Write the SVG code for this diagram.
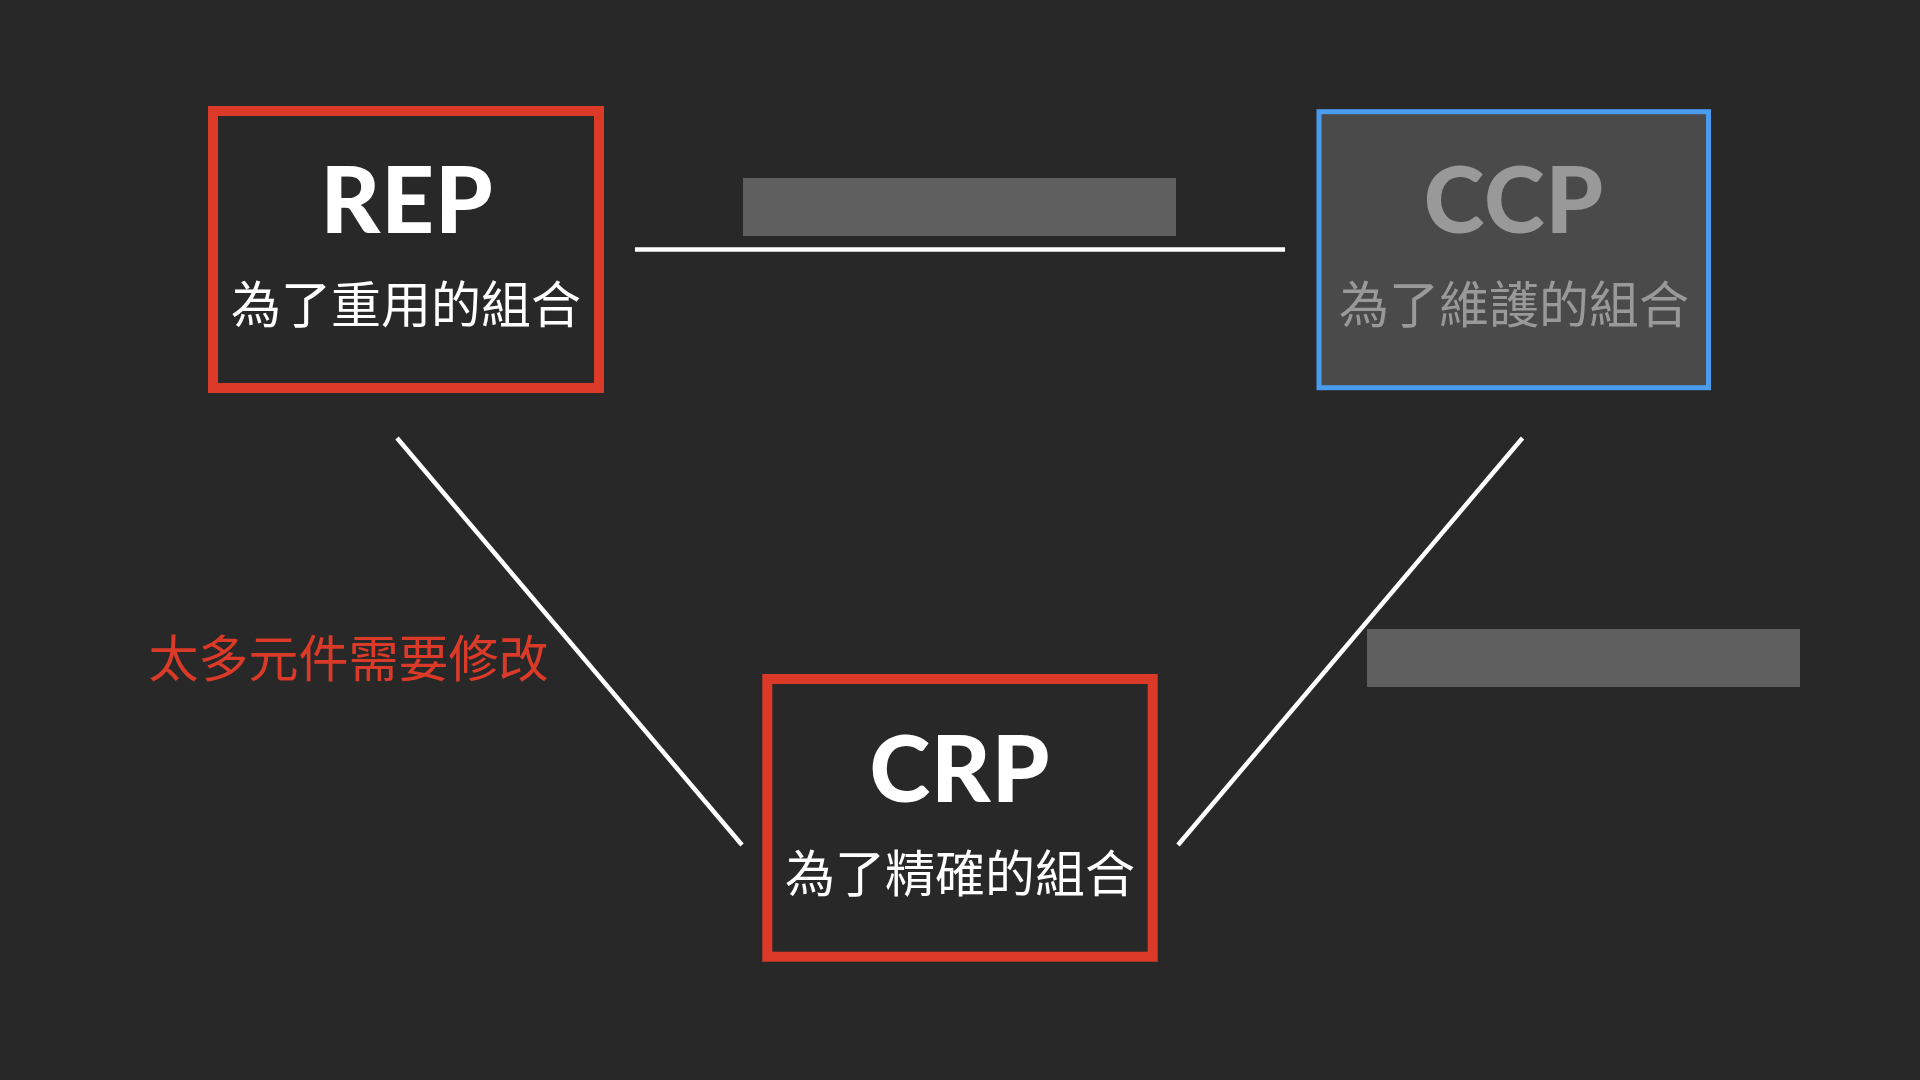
<svg xmlns="http://www.w3.org/2000/svg" width="1920" height="1080" viewBox="0 0 1920 1080">
<style>
.title{font-family:Lato,"Open Sans","Noto Sans",sans-serif;font-weight:900;font-size:92px;text-anchor:middle}
.sub{font-family:"Noto Sans CJK TC","Noto Sans CJK SC",sans-serif;font-size:50px;text-anchor:middle}
.conn{stroke:#ffffff;stroke-width:4.5;fill:none}
.bar{fill:#5f5f5f}
</style>
<rect width="1920" height="1080" fill="#282828"/>
<g id="connectors">
<line class="conn" x1="635" y1="249.5" x2="1285" y2="249.5"/>
<line class="conn" x1="397" y1="438" x2="742" y2="845"/>
<line class="conn" x1="1522.5" y1="438" x2="1178" y2="845"/>
</g>
<g id="bar-top"><rect class="bar" x="743" y="178" width="433" height="58"/></g>
<g id="bar-right"><rect class="bar" x="1367" y="629" width="433" height="58"/></g>
<g id="REP">
<rect x="213" y="111" width="386" height="277" fill="#282828" stroke="#db3a28" stroke-width="10"/>
<text class="title" x="407" y="233" fill="#ffffff" letter-spacing="1">REP</text>
<text class="sub" x="406" y="323" fill="#ffffff">為了重用的組合</text>
</g>
<g id="CCP">
<rect x="1319" y="111.7" width="389.5" height="276" fill="#4a4a4a" stroke="#4a9cee" stroke-width="5"/>
<text class="title" x="1514" y="233" fill="#999999" letter-spacing="1">CCP</text>
<text class="sub" x="1514" y="323" fill="#999999">為了維護的組合</text>
</g>
<g id="CRP">
<rect x="767.3" y="679" width="385.4" height="277.7" fill="#282828" stroke="#db3a28" stroke-width="10"/>
<text class="title" x="960" y="801.5" fill="#ffffff" letter-spacing="1">CRP</text>
<text class="sub" x="960" y="892" fill="#ffffff">為了精確的組合</text>
</g>
<g id="label-crp-rep">
<text class="sub" x="348.5" y="677" fill="#db3a28">太多元件需要修改</text>
</g>
</svg>
